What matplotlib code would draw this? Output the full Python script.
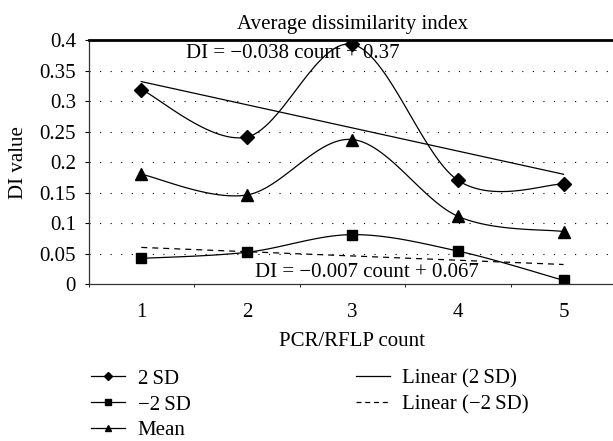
import numpy as np
import matplotlib
matplotlib.use('Agg')
import matplotlib.pyplot as plt
from matplotlib.lines import Line2D

plt.rcParams['font.family'] = ['Liberation Serif', 'DejaVu Serif']

# ------------------
# DATA
# ------------------
counts = [1, 2, 3, 4, 5]
sd_plus = [0.319, 0.241, 0.393, 0.170, 0.164]
sd_minus = [0.042, 0.052, 0.081, 0.054, 0.006]
mean_vals = [0.180, 0.146, 0.237, 0.111, 0.086]

# trend lines as printed on the chart
fit_plus = (-0.038, 0.37)
fit_minus = (-0.007, 0.067)


def smooth_curve(x, y, n=30):
    # Catmull-Rom style smoothing (like spreadsheet "smoothed line")
    x = np.asarray(x, float)
    y = np.asarray(y, float)
    px = np.concatenate([[x[0]], x, [x[-1]]])
    py = np.concatenate([[y[0]], y, [y[-1]]])
    xs, ys = [], []
    t = np.linspace(0, 1, n)
    for i in range(1, len(px) - 2):
        for arr, out in ((px, xs), (py, ys)):
            p0, p1, p2, p3 = arr[i - 1], arr[i], arr[i + 1], arr[i + 2]
            c1 = p1 + (p2 - p0) / 6
            c2 = p2 - (p3 - p1) / 6
            out.extend((1 - t) ** 3 * p1 + 3 * (1 - t) ** 2 * t * c1
                       + 3 * (1 - t) * t ** 2 * c2 + t ** 3 * p2)
    return np.array(xs), np.array(ys)


fig = plt.figure(figsize=(6.13, 4.41), dpi=100)
ax = fig.add_axes([0.1444, 0.356, 0.861, 0.553])

fs = 15

for vals, mk, ms in [(sd_plus, 'D', 7.5), (sd_minus, 's', 7.5), (mean_vals, '^', 8.5)]:
    sx, sy = smooth_curve(counts, vals)
    ax.plot(sx, sy, color='black', lw=0.9)
    ax.plot(counts, vals, ls='none', marker=mk, ms=ms, color='black')

xc = np.array(counts, float)
ax.plot(xc[[0, -1]], fit_plus[0] * xc[[0, -1]] + fit_plus[1], color='black', lw=0.9)
ax.plot(xc[[0, -1]], fit_minus[0] * xc[[0, -1]] + fit_minus[1], color='black', lw=0.9,
        ls=(0, (4.8, 4)))

ax.text(2.44, 0.378, 'DI = \u22120.038 count + 0.37', ha='center', va='center', fontsize=fs)
ax.text(3.14, 0.0195, 'DI = \u22120.007 count + 0.067', ha='center', va='center', fontsize=fs)

ax.set_xlim(0.5, 5.5)
ax.set_ylim(0, 0.4)
ax.set_yticks(np.arange(0, 0.41, 0.05))
ax.set_yticklabels(['0', '0.05', '0.1', '0.15', '0.2', '0.25', '0.3', '0.35', '0.4'])
ax.set_xticks(counts)
ax.set_xticklabels([str(c) for c in counts])
ax.set_xticks(np.arange(0.5, 5.6, 1), minor=True)
ax.tick_params(axis='x', which='major', length=0, pad=14, labelsize=fs)
ax.tick_params(axis='x', which='minor', length=2, direction='out')
ax.tick_params(axis='y', length=3, direction='out', labelsize=fs, pad=6)

for y in np.arange(0.05, 0.36, 0.05):
    ax.axhline(y, color='black', lw=0.8, ls=(0, (1, 8.5)), zorder=0)

ax.spines['right'].set_visible(False)
ax.spines['top'].set_linewidth(2)
ax.spines['left'].set_linewidth(0.9)
ax.spines['bottom'].set_linewidth(0.9)
for s in ('left', 'bottom'):
    ax.spines[s].set_color('#333333')

ax.set_title('Average dissimilarity index', fontsize=fs, pad=8)
ax.set_ylabel('DI value', fontsize=fs, labelpad=8)
ax.set_xlabel('PCR/RFLP count', fontsize=fs, labelpad=7)

handles_left = [
    Line2D([], [], color='black', lw=0.9, marker='D', ms=4, label='2\u2009SD'),
    Line2D([], [], color='black', lw=0.9, marker='s', ms=4.5, label='\u22122\u2009SD'),
    Line2D([], [], color='black', lw=0.9, marker='^', ms=5, label='Mean'),
]
handles_right = [
    Line2D([], [], color='black', lw=0.9, label='Linear (2\u2009SD)'),
    Line2D([], [], color='black', lw=0.9, ls=(0, (4, 3)), label='Linear (\u22122\u2009SD)'),
]
fig.legend(handles=handles_left, loc='upper left', bbox_to_anchor=(0.148, 0.163),
           frameon=False, fontsize=fs, handlelength=1.63, handletextpad=0.62,
           labelspacing=0.3, borderpad=0, borderaxespad=0)
fig.legend(handles=handles_right, loc='upper left', bbox_to_anchor=(0.581, 0.163),
           frameon=False, fontsize=fs, handlelength=1.63, handletextpad=0.55,
           labelspacing=0.3, borderpad=0, borderaxespad=0)

fig.savefig('out.png', dpi=100)
